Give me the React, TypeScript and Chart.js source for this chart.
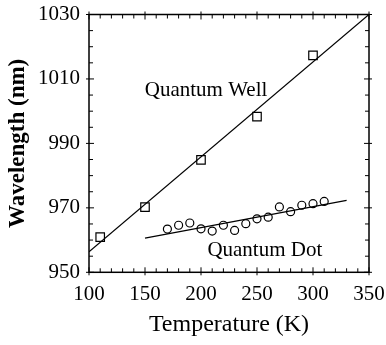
import React, { useEffect, useRef } from "react";
import { Chart, registerables } from "chart.js";

Chart.register(...registerables);

const FONT = '"Liberation Serif", "Times New Roman", Times, serif';

// Quantum well measurements (squares)
const qwTemps = [110, 150, 200, 250, 300];
const qwWave = [960.9, 970.2, 984.9, 998.3, 1017.3];

// Quantum dot measurements (circles)
const qdTemps = [170, 180, 190, 200, 210, 220, 230, 240, 250, 260, 270, 280, 290, 300, 310];
const qdWave = [963.4, 964.6, 965.3, 963.5, 962.8, 964.6, 963.0, 965.1, 966.6, 967.1, 970.3, 968.8, 970.8, 971.3, 972.0];

// Linear fit lines (end points)
const qwFitT = [100, 350];
const qwFitW = [956.4, 1030];
const qdFitT = [150, 330];
const qdFitW = [960.6, 972.3];

// Axis ranges / ticks
const xMin = 100, xMax = 350, xMajor = 50, xMinor = 10;
const yMin = 950, yMax = 1030, yMajor = 20, yMinor = 5;

// In-plot labels: [text, x (K), y (nm, baseline)]
const labels: [string, number, number][] = [
  ["Quantum Well", 204.5, 1004.75],
  ["Quantum Dot", 257, 955.1],
];

const toPts = (xs: number[], ys: number[]) => xs.map((x, i) => ({ x, y: ys[i] }));

const framePlugin = {
  id: "frame",
  afterDatasetsDraw(chart: any) {
    const { ctx, chartArea: a, scales } = chart;
    const xs = scales.x, ys = scales.y;
    ctx.save();
    ctx.strokeStyle = "#000";
    ctx.lineWidth = 1.5;
    ctx.strokeRect(a.left, a.top, a.right - a.left, a.bottom - a.top);
    ctx.lineWidth = 1;
    ctx.beginPath();
    for (let v = xMin; v <= xMax + 1e-9; v += xMinor) {
      const px = xs.getPixelForValue(v);
      const major = Math.abs((v - xMin) % xMajor) < 1e-6;
      const inL = major ? 5 : 4;
      const outL = major ? 3 : 0;
      ctx.moveTo(px, a.bottom + outL);
      ctx.lineTo(px, a.bottom - inL);
      ctx.moveTo(px, a.top - outL);
      ctx.lineTo(px, a.top + inL);
    }
    for (let v = yMin; v <= yMax + 1e-9; v += yMinor) {
      const py = ys.getPixelForValue(v);
      const major = Math.abs((v - yMin) % yMajor) < 1e-6;
      const inL = major ? 5 : 4;
      const outL = major ? 3 : 0;
      ctx.moveTo(a.left - outL, py);
      ctx.lineTo(a.left + inL, py);
      ctx.moveTo(a.right + outL, py);
      ctx.lineTo(a.right - inL, py);
    }
    ctx.stroke();
    ctx.restore();
  },
};

const labelPlugin = {
  id: "inlabels",
  afterDatasetsDraw(chart: any) {
    const { ctx, scales } = chart;
    ctx.save();
    ctx.fillStyle = "#000";
    ctx.font = `21px ${FONT}`;
    ctx.textAlign = "center";
    ctx.textBaseline = "alphabetic";
    for (const [t, x, y] of labels) {
      ctx.fillText(t, scales.x.getPixelForValue(x), scales.y.getPixelForValue(y));
    }
    ctx.restore();
  },
};

export default function App() {
  const ref = useRef<HTMLCanvasElement>(null);
  useEffect(() => {
    const chart = new Chart(ref.current!, {
      type: "scatter",
      data: {
        datasets: [
          {
            label: "QW fit",
            data: toPts(qwFitT, qwFitW),
            showLine: true,
            borderColor: "#000",
            borderWidth: 1.2,
            pointRadius: 0,
          },
          {
            label: "QD fit",
            data: toPts(qdFitT, qdFitW),
            showLine: true,
            borderColor: "#000",
            borderWidth: 1.2,
            pointRadius: 0,
          },
          {
            label: "Quantum Well",
            data: toPts(qwTemps, qwWave),
            pointStyle: "rect",
            pointRadius: 6,
            pointBorderWidth: 1.2,
            borderColor: "#000",
            backgroundColor: "#fff",
          },
          {
            label: "Quantum Dot",
            data: toPts(qdTemps, qdWave),
            pointStyle: "circle",
            pointRadius: 4,
            pointBorderWidth: 1.2,
            borderColor: "#000",
            backgroundColor: "#fff",
          },
        ],
      },
      options: {
        animation: false,
        responsive: true,
        maintainAspectRatio: false,
        layout: { padding: { top: 14.5, right: 17, left: 0, bottom: 0 } },
        plugins: { legend: { display: false }, tooltip: { enabled: false } },
        scales: {
          x: {
            type: "linear",
            min: xMin,
            max: xMax,
            grid: { display: false, drawTicks: true, tickLength: 10 },
            border: { display: false },
            ticks: {
              stepSize: xMajor,
              padding: 0,
              color: "#000",
              font: { family: FONT, size: 21 },
              maxRotation: 0,
              callback: (v: any) => String(v),
            },
            title: {
              display: true,
              text: "Temperature (K)",
              color: "#000",
              font: { family: FONT, size: 24 },
              padding: { top: 0, bottom: 6 },
            },
            afterFit: (s: any) => {
              s.height = 72.7;
            },
          },
          y: {
            type: "linear",
            min: yMin,
            max: yMax,
            grid: { display: false, drawTicks: true, tickLength: 9 },
            border: { display: false },
            ticks: {
              stepSize: yMajor,
              padding: 0,
              color: "#000",
              font: { family: FONT, size: 21 },
              callback: (v: any) => String(v),
            },
            title: {
              display: true,
              text: "Wavelength (nm)",
              color: "#000",
              font: { family: FONT, size: 23, weight: "bold" },
              padding: { top: 4, bottom: 0 },
            },
            afterFit: (s: any) => {
              s.width = 89;
            },
          },
        },
      },
      plugins: [framePlugin, labelPlugin],
    });
    return () => chart.destroy();
  }, []);
  return (
    <div style={{ position: "fixed", left: 0, top: 0, width: 386, height: 345, background: "#fff" }}>
      <canvas ref={ref} />
    </div>
  );
}
